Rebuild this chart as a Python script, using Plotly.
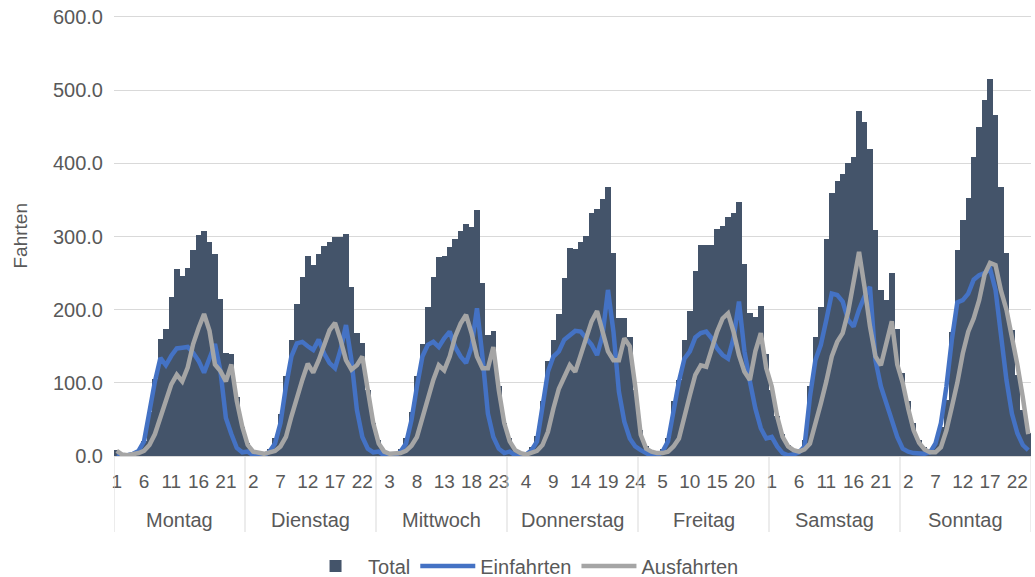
import plotly.graph_objects as go

days = ["Montag", "Dienstag", "Mittwoch", "Donnerstag", "Freitag", "Samstag", "Sonntag"]
hours = list(range(1, 25))

total_mo = [8, 4, 3, 3, 6, 20, 60, 105, 160, 174, 217, 256, 246, 257, 281, 302, 307, 293, 276, 214, 141, 140, 80, 40]
total_di = [18, 7, 4, 4, 10, 24, 58, 110, 159, 208, 245, 274, 261, 276, 287, 292, 300, 300, 303, 231, 168, 155, 90, 45]
total_mi = [22, 7, 4, 4, 10, 25, 60, 110, 153, 203, 244, 272, 273, 286, 297, 308, 317, 313, 336, 237, 166, 171, 95, 45]
total_do = [25, 9, 5, 5, 12, 28, 75, 130, 159, 194, 243, 284, 283, 293, 301, 332, 338, 351, 368, 278, 189, 189, 163, 90]
total_fr = [35, 14, 7, 5, 10, 25, 75, 104, 159, 198, 253, 289, 288, 288, 310, 315, 326, 332, 347, 263, 196, 190, 205, 139]
total_sa = [90, 55, 30, 15, 10, 10, 22, 95, 162, 204, 296, 360, 376, 385, 400, 408, 472, 457, 420, 309, 227, 213, 250, 173]
total_so = [113, 75, 45, 22, 12, 10, 18, 40, 77, 170, 282, 323, 352, 408, 450, 487, 515, 466, 368, 278, 172, 111, 63, 31]

ein_mo = [1, 0, 1, 3, 7, 20, 61, 102, 134, 124, 137, 147, 148, 149, 141, 130, 114, 134, 153, 116, 52, 30, 11, 5]
ein_di = [6, 1, 0, 1, 6, 17, 45, 95, 136, 154, 156, 150, 145, 159, 140, 127, 120, 145, 179, 131, 63, 26, 10, 5]
ein_mi = [6, 1, 0, 1, 6, 17, 49, 95, 136, 152, 156, 149, 161, 170, 149, 136, 127, 149, 202, 136, 58, 26, 10, 4]
ein_do = [6, 1, 0, 2, 8, 20, 65, 115, 136, 143, 159, 165, 171, 170, 161, 152, 138, 165, 227, 170, 88, 47, 24, 13]
ein_fr = [8, 4, 0, 0, 6, 20, 65, 102, 133, 143, 162, 168, 170, 161, 147, 138, 133, 161, 211, 143, 102, 65, 38, 24]
ein_sa = [26, 13, 4, 1, 2, 5, 13, 81, 131, 152, 186, 222, 220, 211, 186, 177, 200, 218, 231, 131, 95, 72, 49, 26]
ein_so = [10, 6, 4, 3, 3, 5, 17, 45, 95, 159, 210, 213, 222, 241, 247, 250, 256, 227, 159, 104, 58, 31, 15, 8]

aus_mo = [7, 2, 1, 2, 4, 7, 15, 30, 52, 77, 98, 111, 102, 121, 153, 175, 194, 171, 125, 116, 102, 125, 75, 40]
aus_di = [15, 6, 4, 3, 5, 7, 13, 26, 54, 81, 104, 126, 114, 131, 154, 172, 182, 159, 131, 118, 124, 136, 90, 45]
aus_mi = [17, 6, 3, 3, 4, 7, 14, 26, 54, 81, 104, 124, 117, 136, 163, 181, 193, 168, 136, 120, 120, 149, 90, 45]
aus_do = [20, 8, 4, 2, 4, 7, 15, 33, 65, 92, 108, 124, 115, 138, 161, 184, 198, 170, 143, 131, 131, 161, 150, 95]
aus_fr = [29, 10, 6, 4, 4, 6, 13, 24, 56, 83, 111, 124, 122, 147, 170, 188, 195, 170, 138, 115, 104, 143, 168, 120]
aus_sa = [95, 54, 26, 13, 8, 6, 9, 17, 42, 72, 102, 136, 156, 168, 197, 236, 279, 231, 177, 136, 124, 154, 184, 125]
aus_so = [100, 65, 35, 18, 9, 5, 5, 12, 35, 67, 100, 140, 170, 188, 213, 248, 264, 261, 226, 200, 165, 125, 80, 30]

total = total_mo + total_di + total_mi + total_do + total_fr + total_sa + total_so
einfahrten = ein_mo + ein_di + ein_mi + ein_do + ein_fr + ein_sa + ein_so
ausfahrten = aus_mo + aus_di + aus_mi + aus_do + aus_fr + aus_sa + aus_so

n_h = len(hours)
idx = list(range(len(days) * n_h))
hour_of = [hours[i % n_h] for i in idx]

FONT = "Liberation Sans, Arial, sans-serif"
TXT = "#595959"
GRID = "#d9d9d9"

fig = go.Figure()
fig.add_trace(go.Bar(x=idx, y=total, name="Total", marker=dict(color="#44546a", line=dict(width=0))))
fig.add_trace(go.Scatter(x=idx, y=einfahrten, name="Einfahrten", mode="lines",
                         line=dict(color="#4472c4", width=4.5, shape="linear")))
fig.add_trace(go.Scatter(x=idx, y=ausfahrten, name="Ausfahrten", mode="lines",
                         line=dict(color="#a5a5a5", width=4.5, shape="linear")))

tickvals = idx[::5]
ticktext = [str(hour_of[i]) for i in tickvals]

PH = 439  # plot height in px (t=17 .. 456)

fig.update_layout(
    width=1035, height=577,
    margin=dict(l=114, r=4, t=17, b=121, autoexpand=False),
    plot_bgcolor="white", paper_bgcolor="white",
    bargap=0,
    font=dict(family=FONT, color=TXT, size=20),
    showlegend=True,
    legend=dict(orientation="h", x=0.4466, xanchor="center", y=-110 / PH, yanchor="middle",
                font=dict(size=20, color=TXT), itemwidth=55, traceorder="normal"),
    xaxis=dict(range=[-0.5, len(idx) - 0.5], tickmode="array", tickvals=tickvals, ticktext=ticktext,
               showgrid=False, showline=True, mirror=True, linecolor=GRID, linewidth=1, ticks="",
               tickfont=dict(size=19, color=TXT), ticklabelstandoff=8, zeroline=False,
               automargin=False, ticklabeloverflow="allow"),
    yaxis=dict(range=[0, 600], dtick=100, tickformat=".1f", showgrid=True, gridcolor=GRID,
               gridwidth=1, zeroline=False, showline=False, ticks="",
               tickfont=dict(size=20, color=TXT), ticklabelstandoff=10, automargin=False,
               ticklabeloverflow="allow"),
)

# day group labels and separators
for k, d in enumerate(days):
    fig.add_annotation(x=k * n_h + (n_h - 1) / 2, y=-64 / PH, xref="x", yref="paper",
                       text=d, showarrow=False, font=dict(size=20, color=TXT),
                       xanchor="center", yanchor="middle")
for k in range(len(days) + 1):
    fig.add_shape(type="line", xref="x", yref="paper", x0=k * n_h - 0.5, x1=k * n_h - 0.5,
                  y0=0, y1=-76 / PH, line=dict(color=GRID, width=1))

fig.add_annotation(x=-0.1025, y=0.5, xref="paper", yref="paper", text="Fahrten", textangle=-90,
                   showarrow=False, font=dict(size=19, color=TXT), xanchor="center", yanchor="middle")

fig.write_html("out.html", config={"displayModeBar": False},
               post_script="document.body.style.margin='0';")
